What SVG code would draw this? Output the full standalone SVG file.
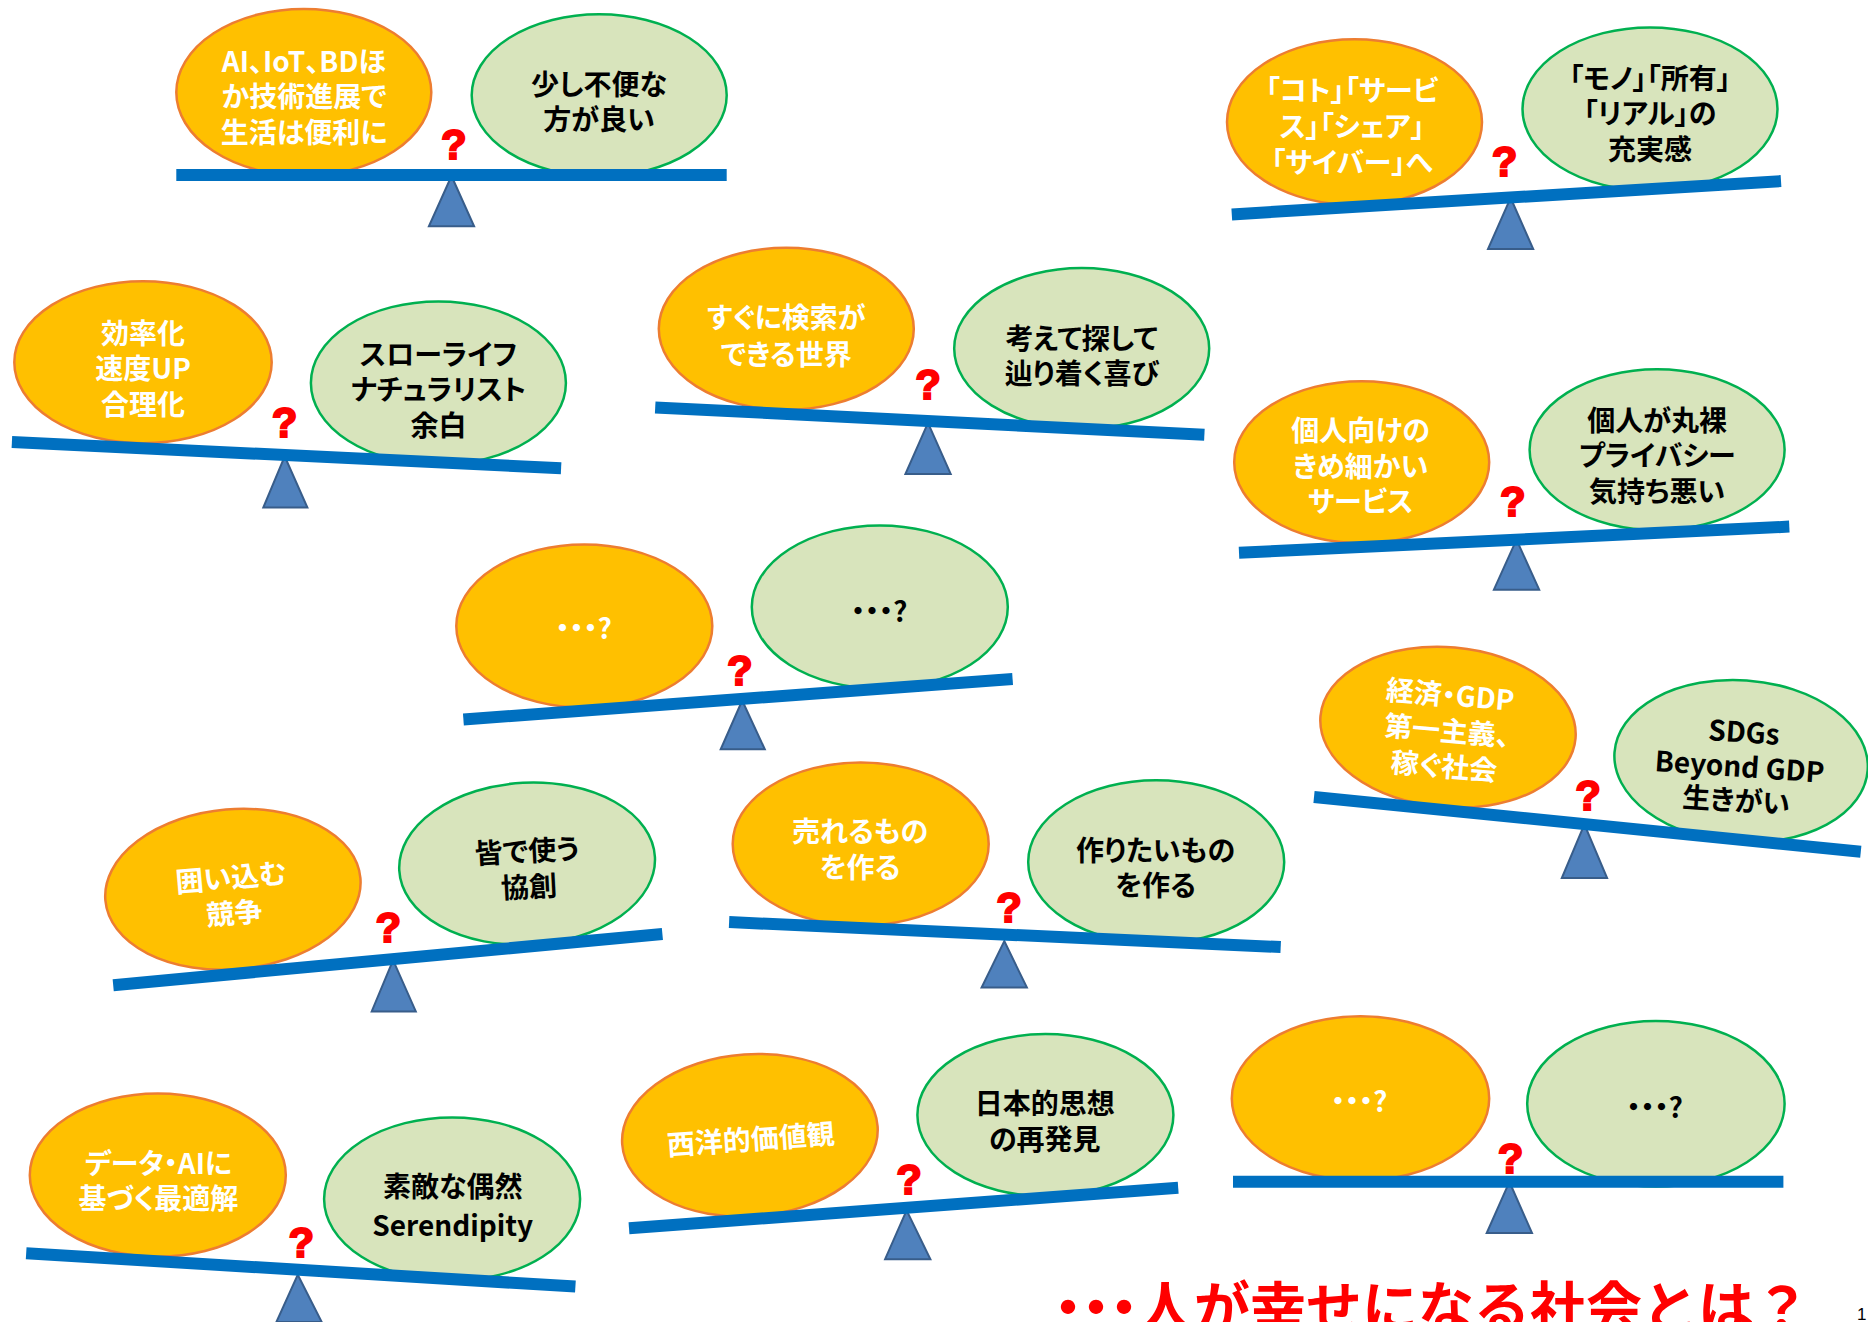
<svg xmlns="http://www.w3.org/2000/svg" width="1868" height="1322" viewBox="0 0 1868 1322">
<style>
.o{fill:#FFC000;stroke:#ED7D31;stroke-width:2.5}
.g{fill:#D8E4BC;stroke:#00B050;stroke-width:2.5}
.beam{stroke:#0070C0;stroke-width:12;fill:none}
.tri{fill:#4F81BD;stroke:#385D8A;stroke-width:2}
.q{fill:#FF0000;stroke:#FF0000;stroke-width:2;font-family:"Liberation Sans",Arial,sans-serif;font-weight:bold;font-size:42px;text-anchor:middle}
.t{font-family:"Noto Sans CJK JP","Noto Sans",sans-serif;font-weight:bold;font-size:28px;text-anchor:middle;dominant-baseline:central;font-feature-settings:"palt"}
.w{fill:#FFFFFF}
.k{fill:#000000}
.title{fill:#FF0000;font-family:"Noto Sans CJK JP",sans-serif;font-weight:bold;font-size:56px}
.dots{font-feature-settings:"palt"}
.pg{fill:#000;font-family:"Liberation Sans",sans-serif;font-size:17px}
</style>
<rect width="1868" height="1322" fill="#FFFFFF"/>

<g id="s1">
<polygon class="tri" points="451.5,176 428.9,226.3 474.1,226.3"/>
<g id="s1-left"><ellipse class="o" cx="303.8" cy="92.3" rx="127.5" ry="83.4"/>
<text class="t w"><tspan x="304" y="59.6">AI、IoT、BDほ</tspan><tspan x="304" y="95.3">か技術進展で</tspan><tspan x="304" y="131">生活は便利に</tspan></text></g>
<g id="s1-right"><ellipse class="g" cx="599.2" cy="95.3" rx="127.5" ry="81"/>
<text class="t k"><tspan x="599" y="83.4">少し不便な</tspan><tspan x="599" y="117.9">方が良い</tspan></text></g>
<line class="beam" x1="176.3" y1="175.1" x2="726.7" y2="175.1"/>
<text class="q" x="453.9" y="158.5">?</text>
</g>

<g id="s2">
<polygon class="tri" points="1510.6,197.8 1488,249 1533.2,249"/>
<g id="s2-left"><ellipse class="o" cx="1354.5" cy="122.1" rx="127.5" ry="82.8"/>
<text class="t w"><tspan x="1352" y="89.3">「コト」「サービ</tspan><tspan x="1352" y="125.1">ス」「シェア」</tspan><tspan x="1352" y="160.8">「サイバー」へ</tspan></text></g>
<g id="s2-right"><ellipse class="g" cx="1650" cy="109" rx="127.5" ry="81.6"/>
<text class="t k"><tspan x="1650" y="77.4">「モノ」「所有」</tspan><tspan x="1650" y="112">「リアル」の</tspan><tspan x="1650" y="147.7">充実感</tspan></text></g>
<line class="beam" x1="1231.8" y1="214.4" x2="1781" y2="181.1"/>
<text class="q" x="1504.6" y="176">?</text>
</g>

<g id="s3">
<polygon class="tri" points="284.7,456.3 263.3,507.5 307.4,507.5"/>
<g id="s3-left"><ellipse class="o" cx="143" cy="362.2" rx="128.7" ry="81"/>
<text class="t w"><tspan x="143" y="332.4">効率化</tspan><tspan x="143" y="366.9">速度UP</tspan><tspan x="143" y="402.7">合理化</tspan></text></g>
<g id="s3-right"><ellipse class="g" cx="438.4" cy="383" rx="127.5" ry="81.6"/>
<text class="t k"><tspan x="438.4" y="352.6">スローライフ</tspan><tspan x="438.4" y="388.4">ナチュラリスト</tspan><tspan x="438.4" y="424.1">余白</tspan></text></g>
<line class="beam" x1="11.9" y1="442" x2="561.1" y2="468.2"/>
<text class="q" x="284.7" y="437">?</text>
</g>

<g id="s4">
<polygon class="tri" points="928,422.9 905.4,474.1 950.7,474.1"/>
<g id="s4-left"><ellipse class="o" cx="786.3" cy="328.8" rx="127.5" ry="81"/>
<text class="t w"><tspan x="786.3" y="315.7">すぐに検索が</tspan><tspan x="786.3" y="352.6">できる世界</tspan></text></g>
<g id="s4-right"><ellipse class="g" cx="1081.7" cy="348.5" rx="127.5" ry="80.4"/>
<text class="t k"><tspan x="1081.7" y="337.1">考えて探して</tspan><tspan x="1081.7" y="371.7">辿り着く喜び</tspan></text></g>
<line class="beam" x1="655.2" y1="407.4" x2="1204.4" y2="434.8"/>
<text class="q" x="928" y="399">?</text>
</g>

<g id="s5">
<polygon class="tri" points="1516.5,539.7 1493.9,589.7 1539.2,589.7"/>
<g id="s5-left"><ellipse class="o" cx="1361.7" cy="462.2" rx="127.5" ry="81"/>
<text class="t w"><tspan x="1360.5" y="428.9">個人向けの</tspan><tspan x="1360.5" y="464.6">きめ細かい</tspan><tspan x="1360.5" y="500.3">サービス</tspan></text></g>
<g id="s5-right"><ellipse class="g" cx="1657.1" cy="449.7" rx="127.5" ry="80.4"/>
<text class="t k"><tspan x="1657.1" y="419.3">個人が丸裸</tspan><tspan x="1657.1" y="453.9">プライバシー</tspan><tspan x="1657.1" y="489.6">気持ち悪い</tspan></text></g>
<line class="beam" x1="1239" y1="552.8" x2="1789.3" y2="526.6"/>
<text class="q" x="1512.9" y="515.5">?</text>
</g>

<g id="s6">
<polygon class="tri" points="742.2,700.5 720.7,749.3 764.8,749.3"/>
<g id="s6-left"><ellipse class="o" cx="584.3" cy="626" rx="128" ry="81.6"/>
<text class="t w" x="583.7" y="626.6">・・・?</text></g>
<g id="s6-right"><ellipse class="g" cx="879.8" cy="607" rx="128" ry="81.6"/>
<text class="t k" x="879.2" y="610">・・・?</text></g>
<line class="beam" x1="463.4" y1="719.5" x2="1012.6" y2="679"/>
<text class="q" x="739.8" y="685">?</text>
</g>

<g id="s7">
<polygon class="tri" points="1584.4,824.4 1561.8,878 1607.1,878"/>
<g id="s7-left" transform="rotate(5 1448 727.3)"><ellipse class="o" cx="1448" cy="727.3" rx="128" ry="80"/>
<text class="t w"><tspan x="1447.4" y="693.3">経済・GDP</tspan><tspan x="1447.4" y="729.1">第一主義、</tspan><tspan x="1447.4" y="764.8">稼ぐ社会</tspan></text></g>
<g id="s7-right" transform="rotate(4 1741.1 761.2)"><ellipse class="g" cx="1741.1" cy="761.2" rx="126.9" ry="81"/>
<text class="t k"><tspan x="1742" y="730.3">SDGs</tspan><tspan x="1740" y="765">Beyond GDP</tspan><tspan x="1739" y="799">生きがい</tspan></text></g>
<line class="beam" x1="1314" y1="797" x2="1860.8" y2="851.8"/>
<text class="q" x="1588" y="810">?</text>
</g>

<g id="s8">
<polygon class="tri" points="393.1,960.2 371.7,1011.4 415.8,1011.4"/>
<g id="s8-left" transform="rotate(-5 232.9 889.3)"><ellipse class="o" cx="232.9" cy="889.3" rx="128" ry="80"/>
<text class="t w"><tspan x="232.3" y="875.6">囲い込む</tspan><tspan x="232.3" y="911.3">競争</tspan></text></g>
<g id="s8-right" transform="rotate(-3 527.1 863.7)"><ellipse class="g" cx="527.1" cy="863.7" rx="128" ry="81"/>
<text class="t k"><tspan x="527.7" y="849.4">皆で使う</tspan><tspan x="527.7" y="885.1">協創</tspan></text></g>
<line class="beam" x1="113.2" y1="985.2" x2="662.4" y2="934"/>
<text class="q" x="388.4" y="942">?</text>
</g>

<g id="s9">
<polygon class="tri" points="1004.3,941.1 981.6,987.6 1026.9,987.6"/>
<g id="s9-left"><ellipse class="o" cx="860.7" cy="844" rx="128" ry="81.6"/>
<text class="t w"><tspan x="860.1" y="830.3">売れるもの</tspan><tspan x="860.1" y="866.1">を作る</tspan></text></g>
<g id="s9-right"><ellipse class="g" cx="1156.2" cy="861.9" rx="128" ry="81.6"/>
<text class="t k"><tspan x="1155.6" y="849.4">作りたいもの</tspan><tspan x="1155.6" y="883.9">を作る</tspan></text></g>
<line class="beam" x1="729.1" y1="922.1" x2="1280.7" y2="947.1"/>
<text class="q" x="1009" y="922">?</text>
</g>

<g id="s10">
<polygon class="tri" points="297.8,1274.7 276.4,1322 321.7,1322"/>
<g id="s10-left"><ellipse class="o" cx="157.8" cy="1175.2" rx="128" ry="81.6"/>
<text class="t w"><tspan x="158.4" y="1161.5">データ・AIに</tspan><tspan x="158.4" y="1197.3">基づく最適解</tspan></text></g>
<g id="s10-right"><ellipse class="g" cx="452.1" cy="1199" rx="128" ry="81.6"/>
<text class="t k"><tspan x="452.7" y="1185.3">素敵な偶然</tspan><tspan x="452.7" y="1223.5">Serendipity</tspan></text></g>
<line class="beam" x1="26.2" y1="1253.2" x2="575.4" y2="1286.6"/>
<text class="q" x="301.4" y="1256.5">?</text>
</g>

<g id="s11">
<polygon class="tri" points="906.6,1210.4 885.1,1259.2 930.4,1259.2"/>
<g id="s11-left" transform="rotate(-4 749.9 1135.3)"><ellipse class="o" cx="749.9" cy="1135.3" rx="128" ry="81"/>
<text class="t w" x="750.5" y="1137.7">西洋的価値観</text></g>
<g id="s11-right"><ellipse class="g" cx="1045.4" cy="1115.1" rx="128" ry="81"/>
<text class="t k"><tspan x="1044.8" y="1102">日本的思想</tspan><tspan x="1044.8" y="1137.7">の再発見</tspan></text></g>
<line class="beam" x1="629" y1="1228.2" x2="1178.2" y2="1187.7"/>
<text class="q" x="909" y="1193.5">?</text>
</g>

<g id="s12">
<polygon class="tri" points="1509.4,1181.8 1486.7,1233 1532,1233"/>
<g id="s12-left"><ellipse class="o" cx="1360.5" cy="1098.4" rx="128.7" ry="82.2"/>
<text class="t w" x="1359.3" y="1099.6">・・・?</text></g>
<g id="s12-right"><ellipse class="g" cx="1655.9" cy="1103.7" rx="128.7" ry="82.8"/>
<text class="t k" x="1654.7" y="1105.5">・・・?</text></g>
<line class="beam" x1="1233" y1="1181.8" x2="1783.4" y2="1181.8"/>
<text class="q" x="1510.6" y="1173">?</text>
</g>

<text id="title" class="title" x="1054" y="1328"><tspan class="dots">・・・</tspan><tspan>人が幸せになる社会とは？</tspan></text>
<text id="page" class="pg" x="1857" y="1320">1</text>
</svg>
